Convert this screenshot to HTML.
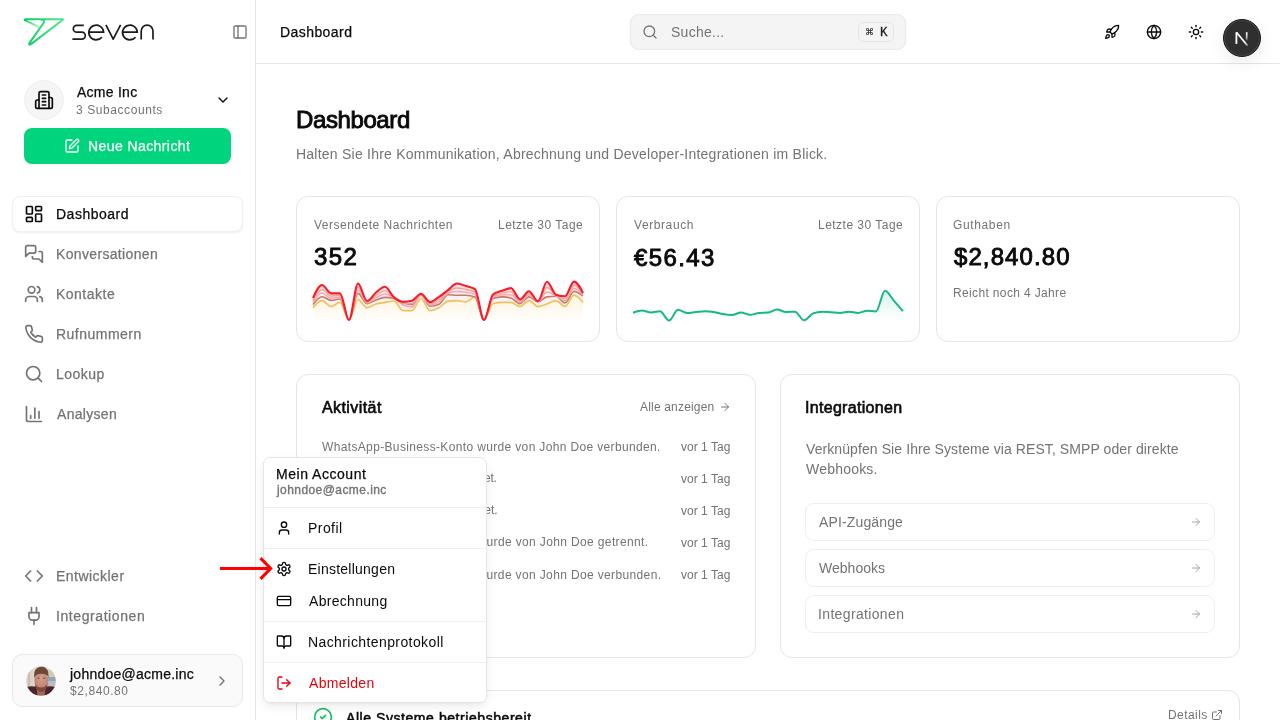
<!DOCTYPE html>
<html lang="de"><head><meta charset="utf-8"><title>Dashboard</title>
<style>
*{box-sizing:border-box;margin:0;padding:0}
html,body{width:1280px;height:720px;overflow:hidden;background:#fff}
body{font-family:"Liberation Sans",sans-serif;color:#0a0a0a;position:relative;font-size:14px}
.abs{position:absolute}
.t{position:absolute;white-space:nowrap;line-height:1;will-change:transform}
svg{display:block}
.ic{position:absolute;fill:none;stroke:currentColor;stroke-linecap:round;stroke-linejoin:round}
.card{position:absolute;border:1px solid #e5e5e5;border-radius:12px;background:#fff}
.item{position:absolute;left:805px;width:410px;height:38px;border:1px solid #efefef;border-radius:9px;background:#fff}
.sep{position:absolute;left:264px;width:222px;height:1px;background:#f0f0f0}
</style></head><body>
<!-- sidebar -->
<div class="abs" style="left:0;top:0;width:256px;height:720px;background:#fff;border-right:1px solid #e5e5e5"></div>
<svg class="abs" style="left:0;top:0" width="160" height="60" viewBox="0 0 160 60">
 <defs><linearGradient id="lgt" x1="24" y1="0" x2="64" y2="0" gradientUnits="userSpaceOnUse"><stop offset="0" stop-color="#0bcc5e"/><stop offset="1" stop-color="#52e88f"/></linearGradient>
 <linearGradient id="lgl" x1="25" y1="20" x2="39" y2="27" gradientUnits="userSpaceOnUse"><stop offset="0" stop-color="#1fd36c"/><stop offset="1" stop-color="#a6f2c4"/></linearGradient></defs>
 <path d="M25 20.2 L38.6 27" stroke="url(#lgl)" stroke-width="1.9" fill="none" stroke-linecap="round"/>
 <path d="M40.6 19.5 Q45.2 20 43.7 22.7 L29.4 43.1 Q28.4 45.5 31 44.1 L62.6 20 Q63.8 19.2 62.3 19.2 H25.6 Q24.2 19.3 25 20.3" stroke="url(#lgt)" stroke-width="2" fill="none" stroke-linejoin="round" stroke-linecap="round"/>
 <g stroke="#1c1c1c" stroke-width="1.7" fill="none" stroke-linecap="butt">
  <path d="M83.8 25.3 H76.7 A3.4 3.4 0 0 0 76.7 32.1 H81.8 A3.5 3.5 0 0 1 81.8 39.1 H72.4"/>
  <path d="M88.9 32.1 H103.6 A7.4 7.4 0 1 0 101.9 37.3 Q100 39.6 96.3 39.6"/>
  <path d="M105.9 24.9 L113.2 39.2 L120.6 24.9" stroke-linejoin="round"/>
  <path d="M122.6 32.1 H137.3 A7.4 7.4 0 1 0 135.6 37.3 Q133.7 39.6 130 39.6"/>
  <path d="M141.2 39.6 V31 A5.9 5.9 0 0 1 153 31 V39.6"/>
 </g>
</svg>
<svg class="ic" style="left:232px;top:24px;color:#737373" width="16" height="16" viewBox="0 0 24 24" stroke-width="2"><rect width="18" height="18" x="3" y="3" rx="2"/><path d="M9 3v18"/></svg>
<div class="abs" style="left:24px;top:80px;width:40px;height:40px;border-radius:50%;background:#f5f5f5;border:1px solid #efefef"></div>
<svg class="ic" style="left:34px;top:90px;color:#0a0a0a" width="20" height="20" viewBox="0 0 24 24" stroke-width="2"><path d="M6 22V4a2 2 0 0 1 2-2h8a2 2 0 0 1 2 2v18Z"/><path d="M6 12H4a2 2 0 0 0-2 2v6a2 2 0 0 0 2 2h2"/><path d="M18 9h2a2 2 0 0 1 2 2v9a2 2 0 0 1-2 2h-2"/><path d="M10 6h4"/><path d="M10 10h4"/><path d="M10 14h4"/><path d="M10 18h4"/></svg>
<div class="t" style="left:76.6px;top:85.05px;font-size:14px;letter-spacing:0.257px;color:#0a0a0a;-webkit-text-stroke:0.25px currentColor;">Acme Inc</div><div class="t" style="left:75.6px;top:103.64px;font-size:12px;letter-spacing:0.575px;color:#737373;">3 Subaccounts</div>
<svg class="ic" style="left:215px;top:92px;color:#0a0a0a" width="16" height="16" viewBox="0 0 24 24" stroke-width="2"><path d="m6 9 6 6 6-6"/></svg>
<div class="abs" style="left:24px;top:128px;width:207px;height:36px;border-radius:8px;background:#00d47c"></div>
<svg class="ic" style="left:64px;top:137.5px;color:#fff" width="16" height="16" viewBox="0 0 24 24" stroke-width="2"><path d="M12 3H5a2 2 0 0 0-2 2v14a2 2 0 0 0 2 2h14a2 2 0 0 0 2-2v-7"/><path d="M18.375 2.625a1 1 0 0 1 3 3l-9.013 9.014a2 2 0 0 1-.853.505l-2.873.84a.5.5 0 0 1-.62-.62l.84-2.873a2 2 0 0 1 .506-.852z"/></svg>
<div class="t" style="left:88.0px;top:138.75px;font-size:14px;letter-spacing:0.415px;color:#fff;-webkit-text-stroke:0.25px currentColor;">Neue Nachricht</div>
<div class="abs" style="left:12px;top:195.5px;width:231px;height:36.5px;border-radius:8px;background:#fff;border:1px solid #f0f0f0;box-shadow:0 1px 2px rgba(0,0,0,.07)"></div>
<svg class="ic" style="left:24px;top:204px;color:#0a0a0a" width="20" height="20" viewBox="0 0 24 24" stroke-width="2"><rect width="7" height="9" x="3" y="3" rx="1"/><rect width="7" height="5" x="14" y="3" rx="1"/><rect width="7" height="9" x="14" y="12" rx="1"/><rect width="7" height="5" x="3" y="16" rx="1"/></svg>
<svg class="ic" style="left:24px;top:244px;color:#737373" width="20" height="20" viewBox="0 0 24 24" stroke-width="2"><path d="M14 9a2 2 0 0 1-2 2H6l-4 4V4a2 2 0 0 1 2-2h8a2 2 0 0 1 2 2z"/><path d="M18 9h2a2 2 0 0 1 2 2v11l-4-4h-6a2 2 0 0 1-2-2v-1"/></svg>
<svg class="ic" style="left:24px;top:284px;color:#737373" width="20" height="20" viewBox="0 0 24 24" stroke-width="2"><path d="M16 21v-2a4 4 0 0 0-4-4H6a4 4 0 0 0-4 4v2"/><circle cx="9" cy="7" r="4"/><path d="M22 21v-2a4 4 0 0 0-3-3.87"/><path d="M16 3.13a4 4 0 0 1 0 7.75"/></svg>
<svg class="ic" style="left:24px;top:324px;color:#737373" width="20" height="20" viewBox="0 0 24 24" stroke-width="2"><path d="M22 16.92v3a2 2 0 0 1-2.18 2 19.79 19.79 0 0 1-8.63-3.07 19.5 19.5 0 0 1-6-6 19.79 19.79 0 0 1-3.07-8.67A2 2 0 0 1 4.11 2h3a2 2 0 0 1 2 1.72 12.84 12.84 0 0 0 .7 2.81 2 2 0 0 1-.45 2.11L8.09 9.91a16 16 0 0 0 6 6l1.27-1.27a2 2 0 0 1 2.11-.45 12.84 12.84 0 0 0 2.81.7A2 2 0 0 1 22 16.92z"/></svg>
<svg class="ic" style="left:24px;top:364px;color:#737373" width="20" height="20" viewBox="0 0 24 24" stroke-width="2"><circle cx="11" cy="11" r="8"/><path d="m21 21-4.3-4.3"/></svg>
<svg class="ic" style="left:24px;top:404px;color:#737373" width="20" height="20" viewBox="0 0 24 24" stroke-width="2"><path d="M3 3v16a2 2 0 0 0 2 2h16"/><path d="M18 17V9"/><path d="M13 17V5"/><path d="M8 17v-3"/></svg>
<svg class="ic" style="left:24px;top:566px;color:#737373" width="20" height="20" viewBox="0 0 24 24" stroke-width="2"><path d="m16 18 6-6-6-6"/><path d="m8 6-6 6 6 6"/></svg>
<svg class="ic" style="left:24px;top:606px;color:#737373" width="20" height="20" viewBox="0 0 24 24" stroke-width="2"><path d="M12 22v-5"/><path d="M9 8V2"/><path d="M15 8V2"/><path d="M18 8v5a4 4 0 0 1-4 4h-4a4 4 0 0 1-4-4V8Z"/></svg>
<div class="t" style="left:55.5px;top:207.15px;font-size:14px;letter-spacing:0.512px;color:#0a0a0a;-webkit-text-stroke:0.25px currentColor;">Dashboard</div><div class="t" style="left:55.9px;top:247.15px;font-size:14px;letter-spacing:0.338px;color:#737373;-webkit-text-stroke:0.25px currentColor;">Konversationen</div><div class="t" style="left:55.9px;top:286.95px;font-size:14px;letter-spacing:0.486px;color:#737373;-webkit-text-stroke:0.25px currentColor;">Kontakte</div><div class="t" style="left:55.7px;top:326.95px;font-size:14px;letter-spacing:0.478px;color:#737373;-webkit-text-stroke:0.25px currentColor;">Rufnummern</div><div class="t" style="left:55.7px;top:366.95px;font-size:14px;letter-spacing:0.46px;color:#737373;-webkit-text-stroke:0.25px currentColor;">Lookup</div><div class="t" style="left:56.7px;top:406.95px;font-size:14px;letter-spacing:0.3px;color:#737373;-webkit-text-stroke:0.25px currentColor;">Analysen</div><div class="t" style="left:55.65px;top:568.95px;font-size:14px;letter-spacing:0.472px;color:#737373;-webkit-text-stroke:0.25px currentColor;">Entwickler</div><div class="t" style="left:55.65px;top:608.85px;font-size:14px;letter-spacing:0.579px;color:#737373;-webkit-text-stroke:0.25px currentColor;">Integrationen</div>
<div class="abs" style="left:12px;top:654px;width:231px;height:53px;border-radius:10px;background:#fafafa;border:1px solid #e8e8e8"></div>
<svg class="abs" style="left:26px;top:666px" width="30" height="30" viewBox="0 0 30 30">
 <defs><clipPath id="av"><circle cx="15" cy="15" r="14.8"/></clipPath>
 <radialGradient id="fc" cx="0.5" cy="0.4" r="0.6"><stop offset="0" stop-color="#d4a08a"/><stop offset="1" stop-color="#b98068"/></radialGradient>
 <filter id="bl" x="-10%" y="-10%" width="120%" height="120%"><feGaussianBlur stdDeviation="0.7"/></filter></defs>
 <g clip-path="url(#av)"><g filter="url(#bl)">
  <rect x="-2" y="-2" width="34" height="34" fill="#e2dbd2"/>
  <rect x="-2" y="4" width="9" height="20" fill="#d9d2c8"/>
  <rect x="2" y="6" width="2" height="16" fill="#c9c0b4"/>
  <rect x="21" y="4" width="11" height="7" fill="#d8c8b2"/>
  <rect x="21" y="11" width="11" height="4" fill="#8fa6ba"/>
  <rect x="21" y="15" width="11" height="8" fill="#b9bcc0"/>
  <path d="M-2 32 V22 Q3 19.5 9 20.5 L21 20.5 Q27 19.5 32 22 V32Z" fill="#48282f"/>
  <path d="M10.5 21 L19.5 21 L18.5 30 L11.5 30Z" fill="#9a6a58"/>
  <ellipse cx="15.2" cy="14.6" rx="6.9" ry="9.6" fill="url(#fc)"/>
  <path d="M8.8 17 Q9.5 25.5 15.2 25.8 Q21 25.5 21.6 17 Q20 21.5 15.2 21.5 Q10.5 21.5 8.8 17Z" fill="#80473a"/>
  <path d="M8 12.5 Q7.2 1 15.3 0.6 Q23.2 1 22.5 12 Q21.8 7.8 15.3 7.8 Q9 7.8 8 12.5Z" fill="#6b4a3a"/>
  <ellipse cx="12.6" cy="12.2" rx="1.2" ry="0.6" fill="#7a5244"/>
  <ellipse cx="18" cy="12.2" rx="1.2" ry="0.6" fill="#7a5244"/>
 </g></g>
</svg>
<div class="t" style="left:69.6px;top:666.65px;font-size:14px;letter-spacing:0.247px;color:#0a0a0a;-webkit-text-stroke:0.25px currentColor;">johndoe@acme.inc</div><div class="t" style="left:69.6px;top:684.84px;font-size:12px;letter-spacing:0.575px;color:#737373;">$2,840.80</div>
<svg class="ic" style="left:214px;top:673px;color:#737373" width="16" height="16" viewBox="0 0 24 24" stroke-width="2"><path d="m9 18 6-6-6-6"/></svg>

<!-- header -->
<div class="abs" style="left:256px;top:63px;width:1024px;height:1px;background:#e5e5e5"></div>
<div class="t" style="left:279.8px;top:25.05px;font-size:14px;letter-spacing:0.431px;color:#0a0a0a;-webkit-text-stroke:0.25px currentColor;">Dashboard</div>
<div class="abs" style="left:630px;top:14px;width:276px;height:36px;border-radius:9px;background:#f4f4f4;border:1px solid #e8e8e8"></div>
<svg class="ic" style="left:642px;top:24px;color:#737373" width="16" height="16" viewBox="0 0 24 24" stroke-width="2"><circle cx="11" cy="11" r="8"/><path d="m21 21-4.3-4.3"/></svg>
<div class="t" style="left:670.6px;top:24.85px;font-size:14px;letter-spacing:0.271px;color:#737373;">Suche...</div>
<div class="abs" style="left:858px;top:22px;width:36px;height:20px;border-radius:5px;background:#f4f4f4;border:1px solid #e3e3e3"></div>
<div class="t" style="left:864.6px;top:27.6px;font-size:9px;color:#333;-webkit-text-stroke:0.2px #333">&#8984;</div>
<div class="t" style="left:879.6px;top:27px;font-size:12.5px;font-family:'Liberation Mono',monospace;color:#222;-webkit-text-stroke:0.3px #222">K</div>
<svg class="ic" style="left:1104px;top:24px;color:#0a0a0a" width="16" height="16" viewBox="0 0 24 24" stroke-width="2"><path d="M4.5 16.5c-1.5 1.26-2 5-2 5s3.74-.5 5-2c.71-.84.7-2.13-.09-2.91a2.18 2.18 0 0 0-2.91-.09z"/><path d="m12 15-3-3a22 22 0 0 1 2-3.95A12.88 12.88 0 0 1 22 2c0 2.72-.78 7.5-6 11a22.35 22.35 0 0 1-4 2z"/><path d="M9 12H4s.55-3.03 2-4c1.62-1.08 5 0 5 0"/><path d="M12 15v5s3.03-.55 4-2c1.08-1.62 0-5 0-5"/></svg>
<svg class="ic" style="left:1146px;top:24px;color:#0a0a0a" width="16" height="16" viewBox="0 0 24 24" stroke-width="2"><circle cx="12" cy="12" r="10"/><path d="M12 2a14.5 14.5 0 0 0 0 20 14.5 14.5 0 0 0 0-20"/><path d="M2 12h20"/></svg>
<svg class="ic" style="left:1188px;top:24px;color:#0a0a0a" width="16" height="16" viewBox="0 0 24 24" stroke-width="2"><circle cx="12" cy="12" r="4"/><path d="M12 2v2"/><path d="M12 20v2"/><path d="m4.93 4.93 1.41 1.41"/><path d="m17.66 17.66 1.41 1.41"/><path d="M2 12h2"/><path d="M20 12h2"/><path d="m6.34 17.66-1.41 1.41"/><path d="m19.07 4.93-1.41 1.41"/></svg>
<div class="abs" style="left:1223px;top:19px;width:38px;height:38px;border-radius:50%;background:#2f2f2f;border:1px solid #161616;box-shadow:0 0 0 1px rgba(255,255,255,.12) inset,0 6px 16px rgba(0,0,0,.08)"></div>
<svg class="abs" style="left:1223px;top:19px" width="38" height="38" viewBox="0 0 38 38">
 <defs><linearGradient id="nf" x1="0" y1="13" x2="0" y2="22" gradientUnits="userSpaceOnUse"><stop offset="0" stop-color="#fff"/><stop offset=".6" stop-color="#fff" stop-opacity=".7"/><stop offset="1" stop-color="#fff" stop-opacity="0"/></linearGradient>
 <linearGradient id="nd" x1="13" y1="13" x2="25" y2="27" gradientUnits="userSpaceOnUse"><stop offset="0" stop-color="#fff"/><stop offset=".75" stop-color="#fff"/><stop offset="1" stop-color="#fff" stop-opacity=".35"/></linearGradient></defs>
 <path d="M13.4 24.9 V13.3" stroke="#fff" stroke-width="1.8" fill="none"/>
 <path d="M13.4 13.3 L24.6 26.8" stroke="url(#nd)" stroke-width="1.8" fill="none"/>
 <path d="M23.7 13.2 V22" stroke="url(#nf)" stroke-width="1.7"/>
</svg>

<!-- main -->
<div class="t" style="left:295.9px;top:108.08000000000001px;font-size:24px;letter-spacing:-0.394px;color:#0a0a0a;-webkit-text-stroke:0.91px currentColor;">Dashboard</div><div class="t" style="left:295.5px;top:146.9px;font-size:14px;letter-spacing:0.236px;color:#737373;">Halten Sie Ihre Kommunikation, Abrechnung und Developer-Integrationen im Blick.</div>
<div class="card" style="left:296px;top:196px;width:304px;height:146px"></div>
<div class="card" style="left:616px;top:196px;width:304px;height:146px"></div>
<div class="card" style="left:936px;top:196px;width:304px;height:146px"></div>
<div class="t" style="left:313.9px;top:218.74px;font-size:12px;letter-spacing:0.495px;color:#737373;">Versendete Nachrichten</div><div class="t" style="left:498.4px;top:218.74px;font-size:12px;letter-spacing:0.477px;color:#737373;">Letzte 30 Tage</div><div class="t" style="left:313.9px;top:245.28px;font-size:24px;letter-spacing:1.4px;color:#0a0a0a;-webkit-text-stroke:0.91px currentColor;">352</div><div class="t" style="left:633.6px;top:218.74px;font-size:12px;letter-spacing:0.587px;color:#737373;">Verbrauch</div><div class="t" style="left:818.4px;top:218.74px;font-size:12px;letter-spacing:0.477px;color:#737373;">Letzte 30 Tage</div><div class="t" style="left:633.9px;top:245.58px;font-size:24px;letter-spacing:1.4px;color:#0a0a0a;-webkit-text-stroke:0.91px currentColor;">€56.43</div><div class="t" style="left:952.6px;top:218.74px;font-size:12px;letter-spacing:0.629px;color:#737373;">Guthaben</div><div class="t" style="left:954.0px;top:244.98000000000002px;font-size:24px;letter-spacing:1.088px;color:#0a0a0a;-webkit-text-stroke:0.91px currentColor;">$2,840.80</div><div class="t" style="left:952.6px;top:286.94px;font-size:12px;letter-spacing:0.356px;color:#737373;">Reicht noch 4 Jahre</div>
<svg class="abs" style="left:0;top:0" width="1280" height="360" viewBox="0 0 1280 360"><defs><linearGradient id="gy" x1="0" y1="0" x2="0" y2="1"><stop offset="0" stop-color="#f6c453" stop-opacity=".17"/><stop offset="1" stop-color="#f6c453" stop-opacity=".03"/></linearGradient><linearGradient id="gg" x1="0" y1="0" x2="0" y2="1"><stop offset="0" stop-color="#10b981" stop-opacity=".16"/><stop offset="1" stop-color="#10b981" stop-opacity=".0"/></linearGradient></defs><path d="M313.00,307.80C316.00,304.25,319.00,300.70,322.00,300.70C325.00,300.70,328.00,306.50,331.00,306.50C334.00,306.50,337.00,302.40,340.00,302.40C343.00,302.40,346.00,320.00,349.00,320.00C352.00,320.00,355.00,299.60,358.00,299.60C361.00,299.60,364.00,307.80,367.00,307.80C370.00,307.80,373.00,304.90,376.00,304.00C379.00,303.10,382.00,302.90,385.00,302.40C388.00,301.90,391.00,301.00,394.00,301.00C397.00,301.00,400.00,310.60,403.00,310.60C406.00,310.60,409.00,310.60,412.00,310.60C415.00,310.60,418.00,298.50,421.00,298.50C424.00,298.50,427.00,310.60,430.00,310.60C433.00,310.60,436.00,309.37,439.00,307.80C442.00,306.23,445.00,301.53,448.00,301.20C451.00,300.87,454.00,300.70,457.00,300.70C460.00,300.70,463.00,301.80,466.00,301.80C469.00,301.80,472.00,296.90,475.00,296.90C478.00,296.90,481.00,320.00,484.00,320.00C487.00,320.00,490.00,304.57,493.00,303.70C496.00,302.83,499.00,302.40,502.00,302.40C505.00,302.40,508.00,302.40,511.00,302.40C514.00,302.40,517.00,306.50,520.00,306.50C523.00,306.50,526.00,300.70,529.00,300.70C532.00,300.70,535.00,306.70,538.00,306.70C541.00,306.70,544.00,305.00,547.00,304.00C550.00,303.00,553.00,300.70,556.00,300.70C559.00,300.70,562.00,306.50,565.00,306.50C568.00,306.50,571.00,295.20,574.00,295.20C577.00,295.20,580.00,298.80,583.00,302.40L583,320L313,320Z" fill="url(#gy)"/><path d="M313.00,304.50C316.00,300.60,319.00,296.70,322.00,296.70C325.00,296.70,328.00,300.40,331.00,300.40C334.00,300.40,337.00,299.00,340.00,299.00C343.00,299.00,346.00,320.00,349.00,320.00C352.00,320.00,355.00,293.40,358.00,293.40C361.00,293.40,364.00,303.70,367.00,303.70C370.00,303.70,373.00,301.05,376.00,300.00C379.00,298.95,382.00,297.40,385.00,297.40C388.00,297.40,391.00,297.77,394.00,298.50C397.00,299.23,400.00,301.40,403.00,302.40C406.00,303.40,409.00,304.50,412.00,304.50C415.00,304.50,418.00,295.20,421.00,295.20C424.00,295.20,427.00,306.20,430.00,306.20C433.00,306.20,436.00,305.57,439.00,304.30C442.00,303.03,445.00,294.70,448.00,294.70C451.00,294.70,454.00,295.20,457.00,295.20C460.00,295.20,463.00,295.20,466.00,295.20C469.00,295.20,472.00,295.77,475.00,296.90C478.00,298.03,481.00,320.00,484.00,320.00C487.00,320.00,490.00,299.57,493.00,298.50C496.00,297.43,499.00,296.90,502.00,296.90C505.00,296.90,508.00,297.27,511.00,298.00C514.00,298.73,517.00,303.70,520.00,303.70C523.00,303.70,526.00,296.90,529.00,296.90C532.00,296.90,535.00,301.80,538.00,301.80C541.00,301.80,544.00,297.30,547.00,296.90C550.00,296.50,553.00,296.30,556.00,296.30C559.00,296.30,562.00,302.90,565.00,302.90C568.00,302.90,571.00,291.40,574.00,291.40C577.00,291.40,580.00,293.60,583.00,295.80L583.00,302.40C580.00,298.80,577.00,295.20,574.00,295.20C571.00,295.20,568.00,306.50,565.00,306.50C562.00,306.50,559.00,300.70,556.00,300.70C553.00,300.70,550.00,303.00,547.00,304.00C544.00,305.00,541.00,306.70,538.00,306.70C535.00,306.70,532.00,300.70,529.00,300.70C526.00,300.70,523.00,306.50,520.00,306.50C517.00,306.50,514.00,302.40,511.00,302.40C508.00,302.40,505.00,302.40,502.00,302.40C499.00,302.40,496.00,302.83,493.00,303.70C490.00,304.57,487.00,320.00,484.00,320.00C481.00,320.00,478.00,296.90,475.00,296.90C472.00,296.90,469.00,301.80,466.00,301.80C463.00,301.80,460.00,300.70,457.00,300.70C454.00,300.70,451.00,300.87,448.00,301.20C445.00,301.53,442.00,306.23,439.00,307.80C436.00,309.37,433.00,310.60,430.00,310.60C427.00,310.60,424.00,298.50,421.00,298.50C418.00,298.50,415.00,310.60,412.00,310.60C409.00,310.60,406.00,310.60,403.00,310.60C400.00,310.60,397.00,301.00,394.00,301.00C391.00,301.00,388.00,301.90,385.00,302.40C382.00,302.90,379.00,303.10,376.00,304.00C373.00,304.90,370.00,307.80,367.00,307.80C364.00,307.80,361.00,299.60,358.00,299.60C355.00,299.60,352.00,320.00,349.00,320.00C346.00,320.00,343.00,302.40,340.00,302.40C337.00,302.40,334.00,306.50,331.00,306.50C328.00,306.50,325.00,300.70,322.00,300.70C319.00,300.70,316.00,304.25,313.00,307.80Z" fill="rgba(225,190,195,.22)"/><path d="M313.00,302.42C316.00,297.69,319.00,292.96,322.00,292.96C325.00,292.96,328.00,298.16,331.00,298.16C334.00,298.16,337.00,297.21,340.00,297.21C343.00,297.21,346.00,320.00,349.00,320.00C352.00,320.00,355.00,290.23,358.00,290.23C361.00,290.23,364.00,302.84,367.00,302.84C370.00,302.84,373.00,299.07,376.00,297.60C379.00,296.13,382.00,294.01,385.00,294.01C388.00,294.01,391.00,296.32,394.00,298.15C397.00,299.98,400.00,303.67,403.00,305.00C406.00,306.33,409.00,307.00,412.00,307.00C415.00,307.00,418.00,294.75,421.00,294.75C424.00,294.75,427.00,304.89,430.00,304.89C433.00,304.89,436.00,303.88,439.00,301.93C442.00,299.98,445.00,294.36,448.00,293.20C451.00,292.04,454.00,291.46,457.00,291.46C460.00,291.46,463.00,291.76,466.00,292.26C469.00,292.75,472.00,292.98,475.00,294.44C478.00,295.89,481.00,320.00,484.00,320.00C487.00,320.00,490.00,298.73,493.00,297.22C496.00,295.71,499.00,295.03,502.00,294.95C505.00,294.87,508.00,294.83,511.00,294.83C514.00,294.83,517.00,302.29,520.00,302.29C523.00,302.29,526.00,295.08,529.00,295.08C532.00,295.08,535.00,301.64,538.00,301.64C541.00,301.64,544.00,292.07,547.00,292.07C550.00,292.07,553.00,294.33,556.00,295.79C559.00,297.24,562.00,300.79,565.00,300.79C568.00,300.79,571.00,288.26,574.00,288.26C577.00,288.26,580.00,291.58,583.00,294.90L583.00,295.80C580.00,293.60,577.00,291.40,574.00,291.40C571.00,291.40,568.00,302.90,565.00,302.90C562.00,302.90,559.00,296.30,556.00,296.30C553.00,296.30,550.00,296.50,547.00,296.90C544.00,297.30,541.00,301.80,538.00,301.80C535.00,301.80,532.00,296.90,529.00,296.90C526.00,296.90,523.00,303.70,520.00,303.70C517.00,303.70,514.00,298.73,511.00,298.00C508.00,297.27,505.00,296.90,502.00,296.90C499.00,296.90,496.00,297.43,493.00,298.50C490.00,299.57,487.00,320.00,484.00,320.00C481.00,320.00,478.00,298.03,475.00,296.90C472.00,295.77,469.00,295.20,466.00,295.20C463.00,295.20,460.00,295.20,457.00,295.20C454.00,295.20,451.00,294.70,448.00,294.70C445.00,294.70,442.00,303.03,439.00,304.30C436.00,305.57,433.00,306.20,430.00,306.20C427.00,306.20,424.00,295.20,421.00,295.20C418.00,295.20,415.00,304.50,412.00,304.50C409.00,304.50,406.00,303.40,403.00,302.40C400.00,301.40,397.00,299.23,394.00,298.50C391.00,297.77,388.00,297.40,385.00,297.40C382.00,297.40,379.00,298.95,376.00,300.00C373.00,301.05,370.00,303.70,367.00,303.70C364.00,303.70,361.00,293.40,358.00,293.40C355.00,293.40,352.00,320.00,349.00,320.00C346.00,320.00,343.00,299.00,340.00,299.00C337.00,299.00,334.00,300.40,331.00,300.40C328.00,300.40,325.00,296.70,322.00,296.70C319.00,296.70,316.00,300.60,313.00,304.50Z" fill="rgba(245,200,205,.25)"/><path d="M313.00,300.47C316.00,294.96,319.00,289.45,322.00,289.45C325.00,289.45,328.00,296.06,331.00,296.06C334.00,296.06,337.00,295.53,340.00,295.53C343.00,295.53,346.00,320.00,349.00,320.00C352.00,320.00,355.00,287.26,358.00,287.26C361.00,287.26,364.00,302.03,367.00,302.03C370.00,302.03,373.00,297.22,376.00,295.35C379.00,293.48,382.00,290.83,385.00,290.83C388.00,290.83,391.00,295.71,394.00,297.82C397.00,299.93,400.00,303.50,403.00,303.50C406.00,303.50,409.00,303.50,412.00,303.50C415.00,303.50,418.00,294.33,421.00,294.33C424.00,294.33,427.00,303.66,430.00,303.66C433.00,303.66,436.00,301.69,439.00,299.71C442.00,297.73,445.00,293.75,448.00,291.79C451.00,289.82,454.00,287.95,457.00,287.95C460.00,287.95,463.00,288.80,466.00,289.50C469.00,290.19,472.00,290.37,475.00,292.13C478.00,293.88,481.00,320.00,484.00,320.00C487.00,320.00,490.00,297.95,493.00,296.02C496.00,294.09,499.00,293.81,502.00,293.12C505.00,292.43,508.00,291.86,511.00,291.86C514.00,291.86,517.00,300.97,520.00,300.97C523.00,300.97,526.00,293.37,529.00,293.37C532.00,293.37,535.00,301.49,538.00,301.49C541.00,301.49,544.00,287.54,547.00,287.54C550.00,287.54,553.00,293.43,556.00,295.31C559.00,297.19,562.00,298.81,565.00,298.81C568.00,298.81,571.00,285.32,574.00,285.32C577.00,285.32,580.00,289.69,583.00,294.06L583.00,294.90C580.00,291.58,577.00,288.26,574.00,288.26C571.00,288.26,568.00,300.79,565.00,300.79C562.00,300.79,559.00,297.24,556.00,295.79C553.00,294.33,550.00,292.07,547.00,292.07C544.00,292.07,541.00,301.64,538.00,301.64C535.00,301.64,532.00,295.08,529.00,295.08C526.00,295.08,523.00,302.29,520.00,302.29C517.00,302.29,514.00,294.83,511.00,294.83C508.00,294.83,505.00,294.87,502.00,294.95C499.00,295.03,496.00,295.71,493.00,297.22C490.00,298.73,487.00,320.00,484.00,320.00C481.00,320.00,478.00,295.89,475.00,294.44C472.00,292.98,469.00,292.75,466.00,292.26C463.00,291.76,460.00,291.46,457.00,291.46C454.00,291.46,451.00,292.04,448.00,293.20C445.00,294.36,442.00,299.98,439.00,301.93C436.00,303.88,433.00,304.89,430.00,304.89C427.00,304.89,424.00,294.75,421.00,294.75C418.00,294.75,415.00,307.00,412.00,307.00C409.00,307.00,406.00,306.33,403.00,305.00C400.00,303.67,397.00,299.98,394.00,298.15C391.00,296.32,388.00,294.01,385.00,294.01C382.00,294.01,379.00,296.13,376.00,297.60C373.00,299.07,370.00,302.84,367.00,302.84C364.00,302.84,361.00,290.23,358.00,290.23C355.00,290.23,352.00,320.00,349.00,320.00C346.00,320.00,343.00,297.21,340.00,297.21C337.00,297.21,334.00,298.16,331.00,298.16C328.00,298.16,325.00,292.96,322.00,292.96C319.00,292.96,316.00,297.69,313.00,302.42Z" fill="rgba(250,190,195,.28)"/><path d="M313.00,298.00C316.00,291.50,319.00,285.00,322.00,285.00C325.00,285.00,328.00,293.40,331.00,293.40C334.00,293.40,337.00,293.40,340.00,293.40C343.00,293.40,346.00,320.00,349.00,320.00C352.00,320.00,355.00,283.50,358.00,283.50C361.00,283.50,364.00,301.00,367.00,301.00C370.00,301.00,373.00,294.87,376.00,292.50C379.00,290.13,382.00,286.80,385.00,286.80C388.00,286.80,391.00,294.90,394.00,297.40C397.00,299.90,400.00,301.80,403.00,301.80C406.00,301.80,409.00,301.43,412.00,300.70C415.00,299.97,418.00,293.80,421.00,293.80C424.00,293.80,427.00,302.10,430.00,302.10C433.00,302.10,436.00,298.92,439.00,296.90C442.00,294.88,445.00,292.23,448.00,290.00C451.00,287.77,454.00,283.50,457.00,283.50C460.00,283.50,463.00,285.05,466.00,286.00C469.00,286.95,472.00,287.07,475.00,289.20C478.00,291.33,481.00,320.00,484.00,320.00C487.00,320.00,490.00,296.97,493.00,294.50C496.00,292.03,499.00,291.87,502.00,290.80C505.00,289.73,508.00,288.10,511.00,288.10C514.00,288.10,517.00,299.30,520.00,299.30C523.00,299.30,526.00,291.20,529.00,291.20C532.00,291.20,535.00,301.30,538.00,301.30C541.00,301.30,544.00,281.80,547.00,281.80C550.00,281.80,553.00,293.63,556.00,294.70C559.00,295.77,562.00,296.30,565.00,296.30C568.00,296.30,571.00,281.60,574.00,281.60C577.00,281.60,580.00,287.30,583.00,293.00L583.00,294.06C580.00,289.69,577.00,285.32,574.00,285.32C571.00,285.32,568.00,298.81,565.00,298.81C562.00,298.81,559.00,297.19,556.00,295.31C553.00,293.43,550.00,287.54,547.00,287.54C544.00,287.54,541.00,301.49,538.00,301.49C535.00,301.49,532.00,293.37,529.00,293.37C526.00,293.37,523.00,300.97,520.00,300.97C517.00,300.97,514.00,291.86,511.00,291.86C508.00,291.86,505.00,292.43,502.00,293.12C499.00,293.81,496.00,294.09,493.00,296.02C490.00,297.95,487.00,320.00,484.00,320.00C481.00,320.00,478.00,293.88,475.00,292.13C472.00,290.37,469.00,290.19,466.00,289.50C463.00,288.80,460.00,287.95,457.00,287.95C454.00,287.95,451.00,289.82,448.00,291.79C445.00,293.75,442.00,297.73,439.00,299.71C436.00,301.69,433.00,303.66,430.00,303.66C427.00,303.66,424.00,294.33,421.00,294.33C418.00,294.33,415.00,303.50,412.00,303.50C409.00,303.50,406.00,303.50,403.00,303.50C400.00,303.50,397.00,299.93,394.00,297.82C391.00,295.71,388.00,290.83,385.00,290.83C382.00,290.83,379.00,293.48,376.00,295.35C373.00,297.22,370.00,302.03,367.00,302.03C364.00,302.03,361.00,287.26,358.00,287.26C355.00,287.26,352.00,320.00,349.00,320.00C346.00,320.00,343.00,295.53,340.00,295.53C337.00,295.53,334.00,296.06,331.00,296.06C328.00,296.06,325.00,289.45,322.00,289.45C319.00,289.45,316.00,294.96,313.00,300.47Z" fill="rgba(250,160,170,.32)"/><path d="M313.00,307.80C316.00,304.25,319.00,300.70,322.00,300.70C325.00,300.70,328.00,306.50,331.00,306.50C334.00,306.50,337.00,302.40,340.00,302.40C343.00,302.40,346.00,320.00,349.00,320.00C352.00,320.00,355.00,299.60,358.00,299.60C361.00,299.60,364.00,307.80,367.00,307.80C370.00,307.80,373.00,304.90,376.00,304.00C379.00,303.10,382.00,302.90,385.00,302.40C388.00,301.90,391.00,301.00,394.00,301.00C397.00,301.00,400.00,310.60,403.00,310.60C406.00,310.60,409.00,310.60,412.00,310.60C415.00,310.60,418.00,298.50,421.00,298.50C424.00,298.50,427.00,310.60,430.00,310.60C433.00,310.60,436.00,309.37,439.00,307.80C442.00,306.23,445.00,301.53,448.00,301.20C451.00,300.87,454.00,300.70,457.00,300.70C460.00,300.70,463.00,301.80,466.00,301.80C469.00,301.80,472.00,296.90,475.00,296.90C478.00,296.90,481.00,320.00,484.00,320.00C487.00,320.00,490.00,304.57,493.00,303.70C496.00,302.83,499.00,302.40,502.00,302.40C505.00,302.40,508.00,302.40,511.00,302.40C514.00,302.40,517.00,306.50,520.00,306.50C523.00,306.50,526.00,300.70,529.00,300.70C532.00,300.70,535.00,306.70,538.00,306.70C541.00,306.70,544.00,305.00,547.00,304.00C550.00,303.00,553.00,300.70,556.00,300.70C559.00,300.70,562.00,306.50,565.00,306.50C568.00,306.50,571.00,295.20,574.00,295.20C577.00,295.20,580.00,298.80,583.00,302.40" stroke="#f0c25c" stroke-width="1.7" fill="none"/><path d="M313.00,304.50C316.00,300.60,319.00,296.70,322.00,296.70C325.00,296.70,328.00,300.40,331.00,300.40C334.00,300.40,337.00,299.00,340.00,299.00C343.00,299.00,346.00,320.00,349.00,320.00C352.00,320.00,355.00,293.40,358.00,293.40C361.00,293.40,364.00,303.70,367.00,303.70C370.00,303.70,373.00,301.05,376.00,300.00C379.00,298.95,382.00,297.40,385.00,297.40C388.00,297.40,391.00,297.77,394.00,298.50C397.00,299.23,400.00,301.40,403.00,302.40C406.00,303.40,409.00,304.50,412.00,304.50C415.00,304.50,418.00,295.20,421.00,295.20C424.00,295.20,427.00,306.20,430.00,306.20C433.00,306.20,436.00,305.57,439.00,304.30C442.00,303.03,445.00,294.70,448.00,294.70C451.00,294.70,454.00,295.20,457.00,295.20C460.00,295.20,463.00,295.20,466.00,295.20C469.00,295.20,472.00,295.77,475.00,296.90C478.00,298.03,481.00,320.00,484.00,320.00C487.00,320.00,490.00,299.57,493.00,298.50C496.00,297.43,499.00,296.90,502.00,296.90C505.00,296.90,508.00,297.27,511.00,298.00C514.00,298.73,517.00,303.70,520.00,303.70C523.00,303.70,526.00,296.90,529.00,296.90C532.00,296.90,535.00,301.80,538.00,301.80C541.00,301.80,544.00,297.30,547.00,296.90C550.00,296.50,553.00,296.30,556.00,296.30C559.00,296.30,562.00,302.90,565.00,302.90C568.00,302.90,571.00,291.40,574.00,291.40C577.00,291.40,580.00,293.60,583.00,295.80" stroke="#c47b6e" stroke-width="1.6" fill="none"/><path d="M313.00,302.42C316.00,297.69,319.00,292.96,322.00,292.96C325.00,292.96,328.00,298.16,331.00,298.16C334.00,298.16,337.00,297.21,340.00,297.21C343.00,297.21,346.00,320.00,349.00,320.00C352.00,320.00,355.00,290.23,358.00,290.23C361.00,290.23,364.00,302.84,367.00,302.84C370.00,302.84,373.00,299.07,376.00,297.60C379.00,296.13,382.00,294.01,385.00,294.01C388.00,294.01,391.00,296.32,394.00,298.15C397.00,299.98,400.00,303.67,403.00,305.00C406.00,306.33,409.00,307.00,412.00,307.00C415.00,307.00,418.00,294.75,421.00,294.75C424.00,294.75,427.00,304.89,430.00,304.89C433.00,304.89,436.00,303.88,439.00,301.93C442.00,299.98,445.00,294.36,448.00,293.20C451.00,292.04,454.00,291.46,457.00,291.46C460.00,291.46,463.00,291.76,466.00,292.26C469.00,292.75,472.00,292.98,475.00,294.44C478.00,295.89,481.00,320.00,484.00,320.00C487.00,320.00,490.00,298.73,493.00,297.22C496.00,295.71,499.00,295.03,502.00,294.95C505.00,294.87,508.00,294.83,511.00,294.83C514.00,294.83,517.00,302.29,520.00,302.29C523.00,302.29,526.00,295.08,529.00,295.08C532.00,295.08,535.00,301.64,538.00,301.64C541.00,301.64,544.00,292.07,547.00,292.07C550.00,292.07,553.00,294.33,556.00,295.79C559.00,297.24,562.00,300.79,565.00,300.79C568.00,300.79,571.00,288.26,574.00,288.26C577.00,288.26,580.00,291.58,583.00,294.90" stroke="#f4a6b0" stroke-width="1.5" fill="none"/><path d="M313.00,300.47C316.00,294.96,319.00,289.45,322.00,289.45C325.00,289.45,328.00,296.06,331.00,296.06C334.00,296.06,337.00,295.53,340.00,295.53C343.00,295.53,346.00,320.00,349.00,320.00C352.00,320.00,355.00,287.26,358.00,287.26C361.00,287.26,364.00,302.03,367.00,302.03C370.00,302.03,373.00,297.22,376.00,295.35C379.00,293.48,382.00,290.83,385.00,290.83C388.00,290.83,391.00,295.71,394.00,297.82C397.00,299.93,400.00,303.50,403.00,303.50C406.00,303.50,409.00,303.50,412.00,303.50C415.00,303.50,418.00,294.33,421.00,294.33C424.00,294.33,427.00,303.66,430.00,303.66C433.00,303.66,436.00,301.69,439.00,299.71C442.00,297.73,445.00,293.75,448.00,291.79C451.00,289.82,454.00,287.95,457.00,287.95C460.00,287.95,463.00,288.80,466.00,289.50C469.00,290.19,472.00,290.37,475.00,292.13C478.00,293.88,481.00,320.00,484.00,320.00C487.00,320.00,490.00,297.95,493.00,296.02C496.00,294.09,499.00,293.81,502.00,293.12C505.00,292.43,508.00,291.86,511.00,291.86C514.00,291.86,517.00,300.97,520.00,300.97C523.00,300.97,526.00,293.37,529.00,293.37C532.00,293.37,535.00,301.49,538.00,301.49C541.00,301.49,544.00,287.54,547.00,287.54C550.00,287.54,553.00,293.43,556.00,295.31C559.00,297.19,562.00,298.81,565.00,298.81C568.00,298.81,571.00,285.32,574.00,285.32C577.00,285.32,580.00,289.69,583.00,294.06" stroke="#e6a898" stroke-width="1.4" fill="none"/><path d="M313.00,298.00C316.00,291.50,319.00,285.00,322.00,285.00C325.00,285.00,328.00,293.40,331.00,293.40C334.00,293.40,337.00,293.40,340.00,293.40C343.00,293.40,346.00,320.00,349.00,320.00C352.00,320.00,355.00,283.50,358.00,283.50C361.00,283.50,364.00,301.00,367.00,301.00C370.00,301.00,373.00,294.87,376.00,292.50C379.00,290.13,382.00,286.80,385.00,286.80C388.00,286.80,391.00,294.90,394.00,297.40C397.00,299.90,400.00,301.80,403.00,301.80C406.00,301.80,409.00,301.43,412.00,300.70C415.00,299.97,418.00,293.80,421.00,293.80C424.00,293.80,427.00,302.10,430.00,302.10C433.00,302.10,436.00,298.92,439.00,296.90C442.00,294.88,445.00,292.23,448.00,290.00C451.00,287.77,454.00,283.50,457.00,283.50C460.00,283.50,463.00,285.05,466.00,286.00C469.00,286.95,472.00,287.07,475.00,289.20C478.00,291.33,481.00,320.00,484.00,320.00C487.00,320.00,490.00,296.97,493.00,294.50C496.00,292.03,499.00,291.87,502.00,290.80C505.00,289.73,508.00,288.10,511.00,288.10C514.00,288.10,517.00,299.30,520.00,299.30C523.00,299.30,526.00,291.20,529.00,291.20C532.00,291.20,535.00,301.30,538.00,301.30C541.00,301.30,544.00,281.80,547.00,281.80C550.00,281.80,553.00,293.63,556.00,294.70C559.00,295.77,562.00,296.30,565.00,296.30C568.00,296.30,571.00,281.60,574.00,281.60C577.00,281.60,580.00,287.30,583.00,293.00" stroke="#fa1a28" stroke-width="2.1" fill="none"/><path d="M633.00,312.80C636.00,311.70,639.00,310.60,642.00,310.60C645.00,310.60,648.00,312.50,651.00,312.50C654.00,312.50,657.00,311.20,660.00,311.20C663.00,311.20,666.00,320.50,669.00,320.50C672.00,320.50,675.00,309.80,678.00,309.80C681.00,309.80,684.00,313.00,687.00,313.00C690.00,313.00,693.00,312.30,696.00,312.00C699.00,311.70,702.00,311.20,705.00,311.20C708.00,311.20,711.00,311.52,714.00,312.00C717.00,312.48,720.00,313.60,723.00,314.10C726.00,314.60,729.00,315.00,732.00,315.00C735.00,315.00,738.00,312.50,741.00,312.50C744.00,312.50,747.00,314.80,750.00,314.80C753.00,314.80,756.00,313.27,759.00,313.00C762.00,312.73,765.00,312.87,768.00,312.60C771.00,312.33,774.00,309.50,777.00,309.50C780.00,309.50,783.00,312.00,786.00,312.00C789.00,312.00,792.00,311.70,795.00,311.70C798.00,311.70,801.00,320.30,804.00,320.30C807.00,320.30,810.00,314.53,813.00,313.40C816.00,312.27,819.00,311.70,822.00,311.70C825.00,311.70,828.00,312.08,831.00,312.30C834.00,312.52,837.00,313.00,840.00,313.00C843.00,313.00,846.00,311.70,849.00,311.70C852.00,311.70,855.00,313.00,858.00,313.00C861.00,313.00,864.00,310.80,867.00,310.80C870.00,310.80,873.00,311.40,876.00,311.40C879.00,311.40,882.00,290.70,885.00,290.70C888.00,290.70,891.00,297.38,894.00,300.80C897.00,304.22,900.00,307.71,903.00,311.20L903,320L633,320Z" fill="url(#gg)"/><path d="M633.00,312.80C636.00,311.70,639.00,310.60,642.00,310.60C645.00,310.60,648.00,312.50,651.00,312.50C654.00,312.50,657.00,311.20,660.00,311.20C663.00,311.20,666.00,320.50,669.00,320.50C672.00,320.50,675.00,309.80,678.00,309.80C681.00,309.80,684.00,313.00,687.00,313.00C690.00,313.00,693.00,312.30,696.00,312.00C699.00,311.70,702.00,311.20,705.00,311.20C708.00,311.20,711.00,311.52,714.00,312.00C717.00,312.48,720.00,313.60,723.00,314.10C726.00,314.60,729.00,315.00,732.00,315.00C735.00,315.00,738.00,312.50,741.00,312.50C744.00,312.50,747.00,314.80,750.00,314.80C753.00,314.80,756.00,313.27,759.00,313.00C762.00,312.73,765.00,312.87,768.00,312.60C771.00,312.33,774.00,309.50,777.00,309.50C780.00,309.50,783.00,312.00,786.00,312.00C789.00,312.00,792.00,311.70,795.00,311.70C798.00,311.70,801.00,320.30,804.00,320.30C807.00,320.30,810.00,314.53,813.00,313.40C816.00,312.27,819.00,311.70,822.00,311.70C825.00,311.70,828.00,312.08,831.00,312.30C834.00,312.52,837.00,313.00,840.00,313.00C843.00,313.00,846.00,311.70,849.00,311.70C852.00,311.70,855.00,313.00,858.00,313.00C861.00,313.00,864.00,310.80,867.00,310.80C870.00,310.80,873.00,311.40,876.00,311.40C879.00,311.40,882.00,290.70,885.00,290.70C888.00,290.70,891.00,297.38,894.00,300.80C897.00,304.22,900.00,307.71,903.00,311.20" stroke="#16b981" stroke-width="2" fill="none"/></svg>

<div class="card" style="left:296px;top:374px;width:460px;height:284px"></div>
<div class="t" style="left:321.9px;top:399.56px;font-size:16px;letter-spacing:0.419px;color:#0a0a0a;-webkit-text-stroke:0.61px currentColor;">Aktivität</div><div class="t" style="left:640.2px;top:401.04px;font-size:12px;letter-spacing:0.183px;color:#737373;">Alle anzeigen</div>
<svg class="ic" style="left:719px;top:401.3px;color:#737373" width="12" height="12" viewBox="0 0 24 24" stroke-width="2"><path d="M5 12h14"/><path d="m12 5 7 7-7 7"/></svg>
<div class="t" style="left:321.9px;top:440.64px;font-size:12px;letter-spacing:0.35px;color:#737373;">WhatsApp-Business-Konto wurde von John Doe verbunden.</div><div class="t" style="left:320.9px;top:472.34px;font-size:12px;letter-spacing:-0.262px;color:#737373;">Neue Rufnummer wurde gemietet.</div><div class="t" style="left:320.9px;top:504.34px;font-size:12px;letter-spacing:-0.032px;color:#737373;">SMS-Kampagne wurde gestartet.</div><div class="t" style="left:321.9px;top:536.44px;font-size:12px;letter-spacing:0.365px;color:#737373;">WhatsApp-Business-Konto wurde von John Doe getrennt.</div><div class="t" style="left:321.9px;top:568.54px;font-size:12px;letter-spacing:0.362px;color:#737373;">WhatsApp-Business-Konto wurde von John Doe verbunden.</div><div class="t" style="left:681.2px;top:440.64px;font-size:12px;letter-spacing:0.025px;color:#737373;">vor 1 Tag</div><div class="t" style="left:681.2px;top:472.64px;font-size:12px;letter-spacing:0.025px;color:#737373;">vor 1 Tag</div><div class="t" style="left:681.2px;top:504.64px;font-size:12px;letter-spacing:0.025px;color:#737373;">vor 1 Tag</div><div class="t" style="left:681.2px;top:536.64px;font-size:12px;letter-spacing:0.025px;color:#737373;">vor 1 Tag</div><div class="t" style="left:681.2px;top:568.64px;font-size:12px;letter-spacing:0.025px;color:#737373;">vor 1 Tag</div>
<div class="card" style="left:780px;top:374px;width:460px;height:284px"></div>
<div class="t" style="left:804.6px;top:399.56px;font-size:16px;letter-spacing:0.304px;color:#0a0a0a;-webkit-text-stroke:0.61px currentColor;">Integrationen</div><div class="t" style="left:805.6px;top:442.15px;font-size:14px;letter-spacing:0.087px;color:#737373;">Verknüpfen Sie Ihre Systeme via REST, SMPP oder direkte</div><div class="t" style="left:805.6px;top:461.95px;font-size:14px;letter-spacing:0.206px;color:#737373;">Webhooks.</div>
<div class="item" style="top:503px"></div>
<div class="item" style="top:549px"></div>
<div class="item" style="top:595px"></div>
<div class="t" style="left:818.9px;top:515.05px;font-size:14px;letter-spacing:0.14px;color:#737373;">API-Zugänge</div><div class="t" style="left:818.9px;top:560.95px;font-size:14px;letter-spacing:0.014px;color:#737373;">Webhooks</div><div class="t" style="left:817.9px;top:607.05px;font-size:14px;letter-spacing:0.35px;color:#737373;">Integrationen</div>
<svg class="ic" style="left:1190px;top:516px;color:#a3a3a3" width="12" height="12" viewBox="0 0 24 24" stroke-width="2"><path d="M5 12h14"/><path d="m12 5 7 7-7 7"/></svg>
<svg class="ic" style="left:1190px;top:562px;color:#a3a3a3" width="12" height="12" viewBox="0 0 24 24" stroke-width="2"><path d="M5 12h14"/><path d="m12 5 7 7-7 7"/></svg>
<svg class="ic" style="left:1190px;top:608px;color:#a3a3a3" width="12" height="12" viewBox="0 0 24 24" stroke-width="2"><path d="M5 12h14"/><path d="m12 5 7 7-7 7"/></svg>

<div class="card" style="left:296px;top:690px;width:944px;height:80px"></div>
<svg class="ic" style="left:313px;top:707px;color:#16c060" width="20" height="20" viewBox="0 0 24 24" stroke-width="2"><circle cx="12" cy="12" r="10"/><path d="m9 12 2 2 4-4"/></svg>
<div class="t" style="left:346.0px;top:710.95px;font-size:14px;letter-spacing:0.562px;color:#0a0a0a;-webkit-text-stroke:0.53px currentColor;">Alle Systeme betriebsbereit</div><div class="t" style="left:1167.9px;top:708.54px;font-size:12px;letter-spacing:0.433px;color:#737373;">Details</div>
<svg class="ic" style="left:1211px;top:709px;color:#737373" width="12" height="12" viewBox="0 0 24 24" stroke-width="2"><path d="M15 3h6v6"/><path d="M10 14 21 3"/><path d="M18 13v6a2 2 0 0 1-2 2H5a2 2 0 0 1-2-2V8a2 2 0 0 1 2-2h6"/></svg>

<!-- dropdown -->
<div class="abs" style="left:263px;top:456.5px;width:224px;height:246.5px;border-radius:7px;background:#fff;border:1px solid #e5e5e5;box-shadow:0 4px 12px -2px rgba(0,0,0,.10),0 2px 4px -2px rgba(0,0,0,.06)"></div>
<div class="t" style="left:275.75px;top:466.85px;font-size:14px;letter-spacing:0.532px;color:#0a0a0a;-webkit-text-stroke:0.25px currentColor;">Mein Account</div><div class="t" style="left:276.75px;top:484.24px;font-size:12px;letter-spacing:0.43px;color:#737373;-webkit-text-stroke:0.35px currentColor;">johndoe@acme.inc</div>
<div class="sep" style="top:507px"></div>
<svg class="ic" style="left:276px;top:520px;color:#0a0a0a" width="16" height="16" viewBox="0 0 24 24" stroke-width="2"><path d="M19 21v-2a4 4 0 0 0-4-4H9a4 4 0 0 0-4 4v2"/><circle cx="12" cy="7" r="4"/></svg>
<div class="t" style="left:307.7px;top:520.75px;font-size:14px;letter-spacing:0.44px;color:#0a0a0a;">Profil</div>
<div class="sep" style="top:548px"></div>
<svg class="ic" style="left:276px;top:561px;color:#0a0a0a" width="16" height="16" viewBox="0 0 24 24" stroke-width="2"><path d="M12.22 2h-.44a2 2 0 0 0-2 2v.18a2 2 0 0 1-1 1.73l-.43.25a2 2 0 0 1-2 0l-.15-.08a2 2 0 0 0-2.73.73l-.22.38a2 2 0 0 0 .73 2.73l.15.1a2 2 0 0 1 1 1.72v.51a2 2 0 0 1-1 1.74l-.15.09a2 2 0 0 0-.73 2.73l.22.38a2 2 0 0 0 2.73.73l.15-.08a2 2 0 0 1 2 0l.43.25a2 2 0 0 1 1 1.73V20a2 2 0 0 0 2 2h.44a2 2 0 0 0 2-2v-.18a2 2 0 0 1 1-1.73l.43-.25a2 2 0 0 1 2 0l.15.08a2 2 0 0 0 2.73-.73l.22-.39a2 2 0 0 0-.73-2.73l-.15-.08a2 2 0 0 1-1-1.74v-.5a2 2 0 0 1 1-1.74l.15-.09a2 2 0 0 0 .73-2.73l-.22-.38a2 2 0 0 0-2.73-.73l-.15.08a2 2 0 0 1-2 0l-.43-.25a2 2 0 0 1-1-1.73V4a2 2 0 0 0-2-2z"/><circle cx="12" cy="12" r="3"/></svg>
<div class="t" style="left:307.7px;top:562.05px;font-size:14px;letter-spacing:0.242px;color:#0a0a0a;">Einstellungen</div>
<svg class="ic" style="left:276px;top:593px;color:#0a0a0a" width="16" height="16" viewBox="0 0 24 24" stroke-width="2"><rect width="20" height="14" x="2" y="5" rx="2"/><path d="M2 10h20"/></svg>
<div class="t" style="left:308.7px;top:594.25px;font-size:14px;letter-spacing:0.3px;color:#0a0a0a;">Abrechnung</div>
<div class="sep" style="top:621px"></div>
<svg class="ic" style="left:276px;top:634px;color:#0a0a0a" width="16" height="16" viewBox="0 0 24 24" stroke-width="2"><path d="M12 7v14"/><path d="M3 18a1 1 0 0 1-1-1V4a1 1 0 0 1 1-1h5a4 4 0 0 1 4 4 4 4 0 0 1 4-4h5a1 1 0 0 1 1 1v13a1 1 0 0 1-1 1h-6a3 3 0 0 0-3 3 3 3 0 0 0-3-3z"/></svg>
<div class="t" style="left:307.7px;top:634.95px;font-size:14px;letter-spacing:0.405px;color:#0a0a0a;">Nachrichtenprotokoll</div>
<div class="sep" style="top:662px"></div>
<svg class="ic" style="left:276px;top:675px;color:#e7000b" width="16" height="16" viewBox="0 0 24 24" stroke-width="2"><path d="M9 21H5a2 2 0 0 1-2-2V5a2 2 0 0 1 2-2h4"/><path d="m16 17 5-5-5-5"/><path d="M21 12H9"/></svg>
<div class="t" style="left:308.7px;top:676.05px;font-size:14px;letter-spacing:0.314px;color:#e7000b;">Abmelden</div>

<!-- red arrow -->
<svg class="abs" style="left:210px;top:550px" width="70" height="40" viewBox="210 550 70 40">
 <path d="M220 568.5 H269.5" stroke="#ff0000" stroke-width="3.1"/>
 <path d="M260.5 558.2 L270.6 568.5 L260.5 578.8" stroke="#ff0000" stroke-width="3.1" fill="none" stroke-linejoin="miter"/>
</svg>
</body></html>
